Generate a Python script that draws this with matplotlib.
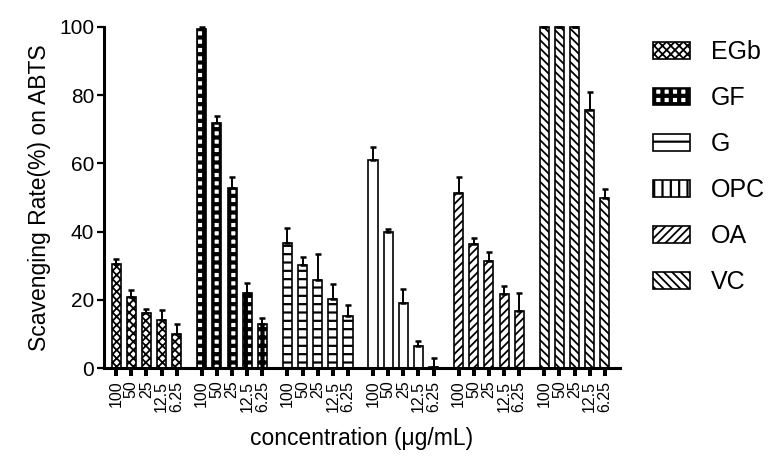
import types
import numpy as np
import matplotlib
matplotlib.use("Agg")
import matplotlib.pyplot as plt
import matplotlib.patches as mpatches

plt.rcParams["font.family"] = ["Liberation Sans", "DejaVu Sans"]

# ── data ─────────────────────────────────────────────────────────────────────
samples = ["EGb", "GF", "G", "OPC", "OA", "VC"]
conc_labels = ["100", "50", "25", "12.5", "6.25"]

egb = [30.4, 20.7, 16.2, 14.2, 9.9]
egb_err = [1.6, 2.3, 1.2, 2.9, 2.9]
gf = [99.3, 71.9, 52.9, 22.0, 13.0]
gf_err = [0.7, 2.1, 3.2, 2.9, 1.6]
g = [36.7, 30.1, 25.8, 20.2, 15.3]
g_err = [4.4, 2.5, 7.5, 4.3, 3.3]
opc = [61.1, 40.0, 19.1, 6.5, 0.3]
opc_err = [3.8, 0.8, 4.1, 1.4, 2.5]
oa = [51.4, 36.3, 31.4, 21.7, 16.6]
oa_err = [4.7, 1.7, 2.6, 2.4, 5.3]
vc = [100.0, 100.0, 100.0, 75.8, 49.9]
vc_err = [0.0, 0.0, 0.0, 5.2, 2.6]

values = [egb, gf, g, opc, oa, vc]
errors = [egb_err, gf_err, g_err, opc_err, oa_err, vc_err]

# ── style per sample ─────────────────────────────────────────────────────────
bar_hatch = ["xxxx", "++", "--", "", "////", "\\\\\\\\"]
leg_hatch = ["xxxx", "++", "-", "||", "////", "\\\\\\\\"]
hatch_lw = [1.3, 3.0, 1.6, 1.6, 1.3, 1.3]

GROUP_STEP = 5.65
WIDTH = 0.6


def with_hatch_lw(artist, lw):
    # set hatch width on the patch itself and while it is drawn
    if hasattr(artist, "_hatch_linewidth"):
        artist._hatch_linewidth = lw
    orig = artist.draw

    def draw(self, renderer):
        with plt.rc_context({"hatch.linewidth": lw}):
            orig(renderer)
    artist.draw = types.MethodType(draw, artist)


fig = plt.figure(figsize=(7.78, 4.66), dpi=100)
ax = fig.add_axes([104 / 778, 1 - 368 / 466, (620 - 104) / 778, (368 - 27) / 466])

positions = []
for gi, (vals, errs) in enumerate(zip(values, errors)):
    x = np.arange(len(vals)) + gi * GROUP_STEP
    positions.extend(x)
    with plt.rc_context({"hatch.linewidth": hatch_lw[gi]}):
        bars = ax.bar(x, vals, width=WIDTH, facecolor="white", edgecolor="black",
                      linewidth=1.2, hatch=bar_hatch[gi], zorder=2, clip_on=False)
    for b in bars:
        with_hatch_lw(b, hatch_lw[gi])
    ax.errorbar(x, vals, yerr=[np.zeros(len(errs)), errs], fmt="none",
                ecolor="black", elinewidth=1.4, capsize=2.5, capthick=1.8,
                zorder=3, clip_on=False)

ax.set_xlim(-0.8, 4 + 5 * GROUP_STEP + 1.0)
ax.set_ylim(0, 100)
ax.set_yticks([0, 20, 40, 60, 80, 100])
ax.set_xticks(positions)
ax.set_xticklabels(conc_labels * len(samples), rotation=90, fontsize=11.5)

for side in ["top", "right"]:
    ax.spines[side].set_visible(False)
for side in ["left", "bottom"]:
    ax.spines[side].set_linewidth(2.2)

ax.tick_params(axis="y", length=5, width=1.6, labelsize=15, pad=2)
ax.tick_params(axis="x", length=6, width=2.9, pad=3)

ax.set_ylabel("Scavenging Rate(%) on ABTS", fontsize=16.5, labelpad=6)
ax.set_xlabel("concentration (μg/mL)", fontsize=16.5, labelpad=11)

# ── legend ───────────────────────────────────────────────────────────────────
handles = []
for gi, name in enumerate(samples):
    p = mpatches.Patch(facecolor="white", edgecolor="black", linewidth=1.2,
                       hatch=leg_hatch[gi], label=name)
    handles.append(p)

leg = fig.legend(handles=handles, loc="upper left",
                 bbox_to_anchor=(653 / 778, 1 - 40 / 466), frameon=False,
                 fontsize=18, handlelength=1.48, handleheight=0.68,
                 handletextpad=0.85, labelspacing=0.88, borderpad=0,
                 borderaxespad=0)
for gi, hp in enumerate(leg.get_patches()):
    with_hatch_lw(hp, hatch_lw[gi])

fig.savefig("out.png", dpi=100, facecolor="white")
